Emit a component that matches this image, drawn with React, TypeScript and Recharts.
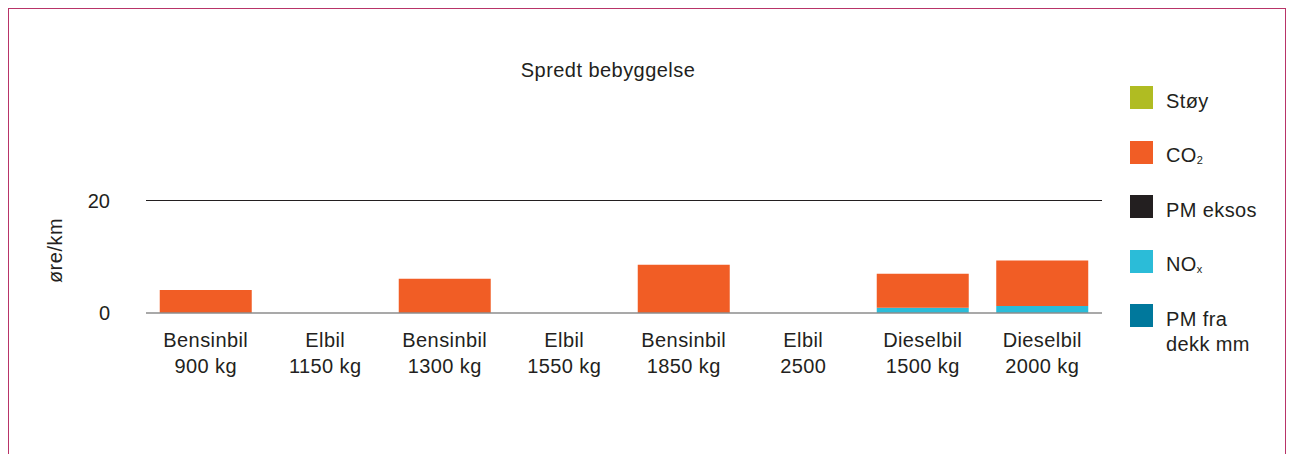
import { BarChart, Bar, XAxis, YAxis, ReferenceLine } from 'recharts'

const categories = [
  ['Bensinbil', '900 kg'],
  ['Elbil', '1150 kg'],
  ['Bensinbil', '1300 kg'],
  ['Elbil', '1550 kg'],
  ['Bensinbil', '1850 kg'],
  ['Elbil', '2500'],
  ['Dieselbil', '1500 kg'],
  ['Dieselbil', '2000 kg'],
]

// stacked bottom -> top
const pmDekk = [0, 0, 0, 0, 0, 0, 0, 0]
const nox = [0, 0, 0, 0, 0, 0, 0.95, 1.25]
const pmEksos = [0, 0, 0, 0, 0, 0, 0, 0]
const co2 = [4.1, 0, 6.1, 0, 8.6, 0, 6.05, 8.1]
const stoy = [0, 0, 0, 0, 0, 0, 0, 0]

const yTicks = [0, 20]

const series = [
  { key: 'pmDekk', name: 'PM fra dekk mm', color: '#00789c' },
  { key: 'nox', name: 'NOx', color: '#2bbcd8' },
  { key: 'pmEksos', name: 'PM eksos', color: '#231f20' },
  { key: 'co2', name: 'CO2', color: '#f15d25' },
  { key: 'stoy', name: 'Støy', color: '#b0bc22' },
]

const data = categories.map((c, i) => ({
  name: c.join('\n'),
  pmDekk: pmDekk[i],
  nox: nox[i],
  pmEksos: pmEksos[i],
  co2: co2[i],
  stoy: stoy[i],
}))

const FONT = '"Liberation Sans", Arial, sans-serif'
const TEXT = '#231f20'

const XTick = ({ x, y, payload }: any) => {
  const [a, b] = String(payload.value).split('\n')
  return (
    <text x={x} y={y} textAnchor="middle" fill={TEXT} fontSize={20} fontFamily={FONT} letterSpacing={0.4}>
      <tspan x={x} dy={26}>{a}</tspan>
      <tspan x={x} dy={26}>{b}</tspan>
    </text>
  )
}

const legendLabel = (name: string) => {
  if (name === 'CO2') return <span>CO<sub style={{ fontSize: 11, verticalAlign: -2 }}>2</sub></span>
  if (name === 'NOx') return <span>NO<sub style={{ fontSize: 11, verticalAlign: -2 }}>x</sub></span>
  if (name === 'PM fra dekk mm') return <span>PM fra<br />dekk mm</span>
  return <span>{name}</span>
}

const ChartLegend = () => (
  <div
    style={{
      position: 'absolute',
      left: 1121,
      top: 77,
      fontFamily: FONT,
      fontSize: 20,
      color: TEXT,
      letterSpacing: 0.4,
    }}
  >
    {[...series].reverse().map((s) => (
      <div key={s.key} style={{ display: 'flex', alignItems: 'flex-start', height: 54.5 }}>
        <div style={{ width: 23, height: 23, background: s.color, flexShrink: 0 }} />
        <div style={{ marginLeft: 13, lineHeight: '25px', position: 'relative', top: 2.5, whiteSpace: 'nowrap' }}>
          {legendLabel(s.name)}
        </div>
      </div>
    ))}
  </div>
)

export default function App() {
  return (
    <div
      style={{
        position: 'relative',
        width: 1278,
        height: 470,
        boxSizing: 'border-box',
        border: '1px solid #b83468',
        background: '#fff',
        fontFamily: FONT,
      }}
    >
      <div
        style={{
          position: 'absolute',
          left: 399,
          top: 49.5,
          width: 400,
          textAlign: 'center',
          fontSize: 20,
          lineHeight: '23px',
          color: TEXT,
          letterSpacing: 0.45,
        }}
      >
        Spredt bebyggelse
      </div>
      <div
        style={{
          position: 'absolute',
          left: -4,
          top: 229.5,
          width: 100,
          height: 23,
          lineHeight: '23px',
          textAlign: 'center',
          fontSize: 20,
          color: TEXT,
          letterSpacing: 0.5,
          transform: 'rotate(-90deg)',
        }}
      >
        øre/km
      </div>
      <BarChart
        width={1276}
        height={440}
        data={data}
        margin={{ top: 191.5, right: 183, bottom: 76, left: 77 }}
        barCategoryGap="11.5%"
      >
        <ReferenceLine y={20} stroke="#231f20" strokeWidth={1} />
        <XAxis
          dataKey="name"
          interval={0}
          height={60}
          tickLine={false}
          axisLine={{ stroke: '#8c8c8c', strokeWidth: 1.5 }}
          tick={<XTick />}
        />
        <YAxis
          width={60}
          domain={[0, 20]}
          ticks={yTicks}
          axisLine={false}
          tickLine={false}
          tickMargin={30}
          tick={{ fill: TEXT, fontSize: 20, fontFamily: FONT }}
        />
        {series.map((s) => (
          <Bar key={s.key} dataKey={s.key} name={s.name} stackId="a" fill={s.color} isAnimationActive={false} />
        ))}
      </BarChart>
      <ChartLegend />
    </div>
  )
}
